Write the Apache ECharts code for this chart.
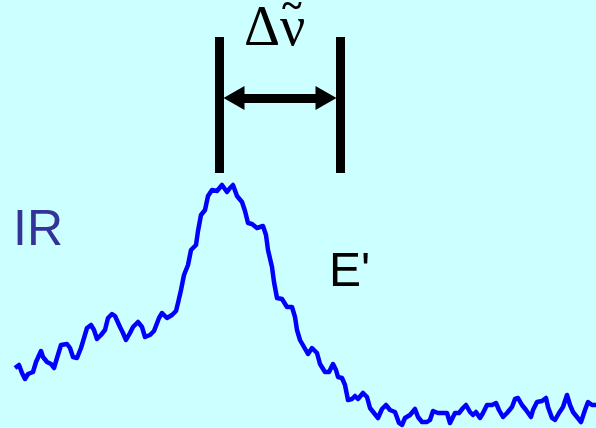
<!DOCTYPE html>
<html>
<head>
<meta charset="utf-8">
<script src="https://cdn.jsdelivr.net/npm/echarts@6/dist/echarts.min.js"></script>
<style>
  html, body { margin: 0; padding: 0; background: #ccffff; }
  #chart { width: 596px; height: 428px; }
</style>
</head>
<body>
<div id="chart"></div>
<script>
// Band position (arbitrary wavenumber units) and IR intensity, sampled along the trace
const wavenumber = [
  15, 19, 22, 25, 28, 33, 36, 41, 43, 47, 51, 54, 57, 61, 67, 70, 73, 77, 81, 84,
  87, 91, 94, 97, 101, 105, 108, 112, 115, 120, 123, 126, 130, 133, 138, 142, 145, 150, 154, 159,
  162, 167, 172, 176, 178, 181, 184, 188, 191, 196, 198, 201, 205, 208, 212, 217, 222, 227, 230, 233,
  237, 242, 245, 248, 252, 257, 263, 266, 268, 272, 274, 277, 282, 287, 292, 295, 297, 300, 304, 308,
  312, 317, 320, 325, 329, 333, 336, 338, 342, 345, 348, 352, 355, 358, 363, 367, 370, 374, 378, 382,
  386, 390, 395, 399, 402, 405, 410, 415, 418, 422, 427, 430, 433, 438, 443, 447, 450, 455, 459, 463,
  466, 470, 473, 476, 480, 483, 487, 492, 496, 499, 503, 507, 512, 515, 518, 522, 526, 531, 533, 537,
  542, 546, 548, 552, 555, 559, 563, 567, 570, 573, 577, 581, 585, 588, 592, 596
];
const intensity = [
  60, 63, 55, 49, 54, 56, 66, 77, 71, 66, 64, 60, 70, 83, 84, 80, 71, 70, 80, 90,
  100, 103, 98, 89, 93, 98, 110, 114, 112, 101, 95, 88, 95, 101, 106, 101, 91, 93, 97, 110,
  115, 110, 113, 117, 125, 138, 153, 163, 178, 183, 197, 213, 218, 232, 238, 237, 243, 236, 240, 243,
  232, 226, 217, 205, 204, 200, 202, 193, 178, 161, 146, 130, 129, 121, 121, 111, 98, 88, 81, 74,
  80, 75, 64, 56, 56, 64, 58, 51, 50, 43, 28, 29, 32, 29, 35, 31, 20, 15, 10, 19,
  23, 18, 16, 5, 3, 10, 13, 19, 11, 6, 6, 8, 17, 15, 15, 15, 5, 15, 15, 20,
  23, 16, 13, 16, 10, 15, 23, 23, 25, 18, 11, 15, 21, 29, 30, 23, 18, 11, 18, 26,
  27, 30, 21, 10, 8, 15, 21, 33, 23, 16, 11, 6, 18, 26, 23, 23
];

// Bandwidth marker: the two limits and the level of the double arrow
const bandLimits = [219.5, 340.5];
const markerSpan = [255, 391];
const arrowLevel = 330;
const arrowEnds = [234, 326];

const seriesData = wavenumber.map((x, i) => [x, intensity[i]]);

const barStyle = { color: '#000', width: 9, type: 'solid', cap: 'butt' };

const chart = echarts.init(document.getElementById('chart'), null, { renderer: 'canvas' });
chart.setOption({
  backgroundColor: '#ccffff',
  animation: false,
  grid: { left: 0, right: 0, top: 0, bottom: 0 },
  xAxis: { type: 'value', min: 0, max: 596, show: false },
  yAxis: { type: 'value', min: 0, max: 428, show: false },
  series: [{
    type: 'line',
    data: seriesData,
    showSymbol: false,
    smooth: false,
    lineStyle: { color: '#0000ff', width: 4.5, join: 'round' },
    silent: true,
    markLine: {
      silent: true,
      animation: false,
      label: { show: false },
      emphasis: { disabled: true },
      data: [
        [
          { coord: [bandLimits[0], markerSpan[0]], symbol: 'none', lineStyle: barStyle },
          { coord: [bandLimits[0], markerSpan[1]], symbol: 'none' }
        ],
        [
          { coord: [bandLimits[1], markerSpan[0]], symbol: 'none', lineStyle: barStyle },
          { coord: [bandLimits[1], markerSpan[1]], symbol: 'none' }
        ],
        [
          { coord: [arrowEnds[0], arrowLevel], symbol: 'triangle', symbolSize: [24, 21], lineStyle: barStyle },
          { coord: [arrowEnds[1], arrowLevel], symbol: 'triangle', symbolSize: [24, 21] }
        ]
      ],
      itemStyle: { color: '#000' }
    }
  }],
  graphic: [
    {
      type: 'text', left: 13, top: 206,
      style: { text: 'IR', font: '50px "Liberation Sans", Arial, sans-serif', fill: '#333399' }
    },
    {
      type: 'text', left: 329, top: 249,
      style: { text: "E'", font: '48px "Liberation Sans", Arial, sans-serif', fill: '#000000' }
    },
    {
      type: 'text', left: 244, top: 2,
      style: { text: 'Δν', font: '56px "Liberation Serif", "Times New Roman", serif', fill: '#000000' }
    },
    {
      // wavenumber tilde over the nu
      type: 'text', left: 282, top: -11,
      style: { text: '~', font: 'bold 38px "Liberation Serif", "Times New Roman", serif', fill: '#000000' }
    }
  ]
});
</script>
</body>
</html>
